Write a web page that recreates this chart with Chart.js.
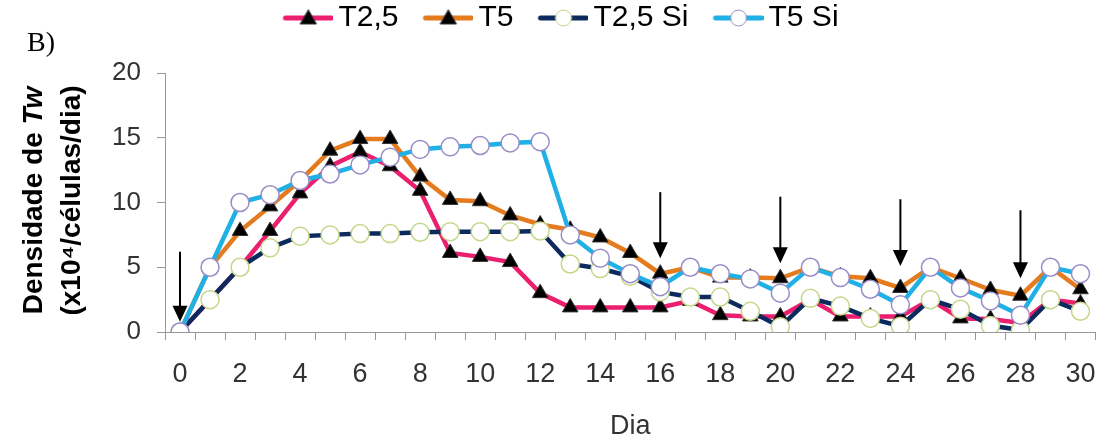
<!DOCTYPE html>
<html>
<head>
<meta charset="utf-8">
<script src="https://cdn.jsdelivr.net/npm/chart.js@4/dist/chart.umd.min.js"></script>
<style>
  html, body { margin: 0; padding: 0; background: #fff; }
  #wrap { width: 1106px; height: 440px; }
</style>
</head>
<body>
<div id="wrap"><canvas id="chart"></canvas></div>
<script>
'use strict';

// Days 0..30 (x axis categories)
const days = ['0', '1', '2', '3', '4', '5', '6', '7', '8', '9', '10',
    '11', '12', '13', '14', '15', '16', '17', '18', '19', '20',
    '21', '22', '23', '24', '25', '26', '27', '28', '29', '30'];

// Values (x10^4 cells)
const t25 = [0, 2.5, 5, 7.8, 10.7, 12.8, 13.9, 12.8, 10.9, 6.1, 5.8, 5.4, 3.0, 1.9, 1.9, 1.9,
    1.9, 2.4, 1.3, 1.2, 1.2, 2.5, 1.2, 1.2, 1.2, 2.5, 1.05, 1.0, 0.7, 2.5, 2.2];
const t5 = [0, 5, 7.8, 9.7, 11.7, 14.0, 14.9, 14.9, 12.0, 10.2, 10.1, 9.0, 8.3, 7.9, 7.3, 6.1,
    4.5, 5.0, 4.2, 4.2, 4.15, 5.0, 4.3, 4.15, 3.4, 5.0, 4.15, 3.25, 2.8, 5.0, 3.3];
const t25Si = [0, 2.5, 5.0, 6.5, 7.4, 7.5, 7.6, 7.6, 7.7, 7.75, 7.75, 7.75, 7.8, 5.25, 4.9, 4.3,
    3.1, 2.7, 2.7, 1.6, 0.4, 2.6, 2.0, 1.05, 0.45, 2.5, 1.75, 0.5, 0.15, 2.5, 1.6];
const t5Si = [0, 5.0, 10.0, 10.6, 11.7, 12.2, 12.9, 13.5, 14.1, 14.3, 14.4, 14.6, 14.7, 7.5, 5.7, 4.5,
    3.5, 5.0, 4.5, 4.1, 3.0, 5.0, 4.2, 3.3, 2.1, 5.0, 3.4, 2.4, 1.3, 5.0, 4.5];

// Arrows: day, top value, tip value
const arrowDays = [0, 16, 20, 24, 28];
const arrowTop = [6.2, 10.8, 10.45, 10.25, 9.4];
const arrowTip = [0.8, 5.7, 5.3, 5.1, 4.15];

const yTicks = [0, 5, 10, 15, 20];

const FONT = "'Liberation Sans', Arial, sans-serif";

// little canvas used as legend symbol: line with marker in the middle
function legendIcon(lineColor, marker, fill, stroke) {
    const c = document.createElement('canvas');
    c.width = 82;
    c.height = 22;
    const g = c.getContext('2d');
    g.strokeStyle = lineColor;
    g.lineWidth = 5;
    g.lineCap = 'round';
    g.beginPath();
    g.moveTo(34, 11);
    g.lineTo(80, 11);
    g.stroke();
    const cx = 57, cy = 11;
    g.fillStyle = fill;
    g.strokeStyle = stroke;
    g.lineWidth = 1;
    g.beginPath();
    if (marker === 'triangle') {
        g.moveTo(cx, cy - 8);
        g.lineTo(cx + 8, cy + 6);
        g.lineTo(cx - 8, cy + 6);
        g.closePath();
    } else {
        g.arc(cx, cy, 8, 0, Math.PI * 2);
    }
    g.fill();
    g.stroke();
    return c;
}

const icons = [
    legendIcon('#ec1e6e', 'triangle', '#000', '#333'),
    legendIcon('#e47b1e', 'triangle', '#000', '#333'),
    legendIcon('#0d2a5e', 'circle', '#fff', '#c6d68a'),
    legendIcon('#1fb0e6', 'circle', '#fff', '#9a8cc6')
];

// push the plot area down below the legend
const legendGap = {
    id: 'legendGap',
    beforeInit(chart) {
        const fit = chart.legend.fit;
        chart.legend.fit = function () {
            fit.call(chart.legend);
            this.height += 30;
        };
    }
};

// panel letter, y axis title (with italic Tw) and the arrows
const extras = {
    id: 'extras',
    afterDatasetsDraw(chart) {
        const ctx = chart.ctx;
        const x = chart.scales.x, y = chart.scales.y;
        ctx.save();
        ctx.strokeStyle = '#000';
        ctx.fillStyle = '#000';
        ctx.lineWidth = 2;
        arrowDays.forEach((d, i) => {
            const px = x.getPixelForValue(d);
            const top = y.getPixelForValue(arrowTop[i]);
            const tip = y.getPixelForValue(arrowTip[i]);
            ctx.beginPath();
            ctx.moveTo(px, top);
            ctx.lineTo(px, tip - 14);
            ctx.stroke();
            ctx.beginPath();
            ctx.moveTo(px - 7.5, tip - 16);
            ctx.lineTo(px + 7.5, tip - 16);
            ctx.lineTo(px, tip);
            ctx.closePath();
            ctx.fill();
        });
        ctx.restore();
    },
    afterDraw(chart) {
        const ctx = chart.ctx;
        ctx.save();
        ctx.fillStyle = '#000';
        ctx.font = "28px 'Liberation Serif', 'Times New Roman', serif";
        ctx.textBaseline = 'alphabetic';
        ctx.fillText('B)', 27, 51);

        // y title, rotated
        const cy = (chart.chartArea.top + chart.chartArea.bottom) / 2 - 2;
        ctx.translate(0, cy);
        ctx.rotate(-Math.PI / 2);
        ctx.textBaseline = 'middle';
        const bold = 'bold 28px ' + FONT;
        const boldIt = 'italic bold 28px ' + FONT;
        ctx.font = bold;
        const w1 = ctx.measureText('Densidade de ').width;
        ctx.font = boldIt;
        const w2 = ctx.measureText('Tw').width;
        let sx = -(w1 + w2) / 2;
        ctx.font = bold;
        ctx.fillText('Densidade de ', sx, 34);
        ctx.font = boldIt;
        ctx.fillText('Tw', sx + w1, 34);
        ctx.font = bold;
        ctx.textAlign = 'center';
        ctx.fillText('(x10\u2074/c\u00e9lulas/dia)', 0, 72);
        ctx.restore();
    }
};

const chart = new Chart(document.getElementById('chart'), {
    type: 'line',
    data: {
        labels: days,
        datasets: [
            {
                label: 'T2,5',
                data: t25,
                borderColor: '#ec1e6e',
                borderWidth: 4.5,
                pointStyle: 'triangle',
                pointRadius: 9,
                pointBackgroundColor: '#000',
                pointBorderColor: '#333',
                pointBorderWidth: 1,
                order: 3
            },
            {
                label: 'T5',
                data: t5,
                borderColor: '#e47b1e',
                borderWidth: 4.5,
                pointStyle: 'triangle',
                pointRadius: 9,
                pointBackgroundColor: '#000',
                pointBorderColor: '#333',
                pointBorderWidth: 1,
                order: 2
            },
            {
                label: 'T2,5 Si',
                data: t25Si,
                borderColor: '#0d2a5e',
                borderWidth: 4.5,
                pointStyle: 'circle',
                pointRadius: 9,
                pointBackgroundColor: '#fff',
                pointBorderColor: '#c6d68a',
                pointBorderWidth: 1.5,
                order: 1
            },
            {
                label: 'T5 Si',
                data: t5Si,
                borderColor: '#1fb0e6',
                borderWidth: 4.5,
                pointStyle: 'circle',
                pointRadius: 9,
                pointBackgroundColor: '#fff',
                pointBorderColor: '#9a8cc6',
                pointBorderWidth: 1.5,
                order: 0
            }
        ]
    },
    options: {
        responsive: true,
        maintainAspectRatio: false,
        animation: false,
        layout: { padding: { left: 0, right: 6, top: 0, bottom: 0 } },
        plugins: {
            tooltip: { enabled: false },
            legend: {
                position: 'top',
                labels: {
                    usePointStyle: true,
                    pointStyleWidth: 62,
                    padding: 3,
                    color: '#000',
                    font: { family: FONT, size: 30 },
                    generateLabels: (c) => c.data.datasets.map((ds, i) => ({
                        text: ds.label,
                        pointStyle: icons[i],
                        datasetIndex: i,
                        hidden: !c.isDatasetVisible(i),
                        fontColor: '#000',
                        lineWidth: 0
                    }))
                }
            }
        },
        scales: {
            x: {
                offset: true,
                grid: { offset: true, drawOnChartArea: false, tickLength: 8, color: '#999' },
                border: { color: '#999' },
                ticks: {
                    autoSkip: false,
                    maxRotation: 0,
                    padding: 18,
                    color: '#333',
                    font: { family: FONT, size: 27 },
                    callback: function (v, i) {
                        return i % 2 === 0 ? this.getLabelForValue(v) : '';
                    }
                },
                title: {
                    display: true,
                    text: 'Dia',
                    color: '#333',
                    padding: 0,
                    font: { family: FONT, size: 27, lineHeight: 1 }
                },
                afterFit: (s) => {
                    s.height = 108;
                    s.paddingLeft = 0;
                    s.paddingRight = 0;
                }
            },
            y: {
                min: 0,
                max: 20,
                afterBuildTicks: (s) => { s.ticks = yTicks.map(v => ({ value: v })); },
                ticks: {
                    padding: 16,
                    color: '#333',
                    font: { family: FONT, size: 26 }
                },
                grid: { drawOnChartArea: false, tickLength: 8, color: '#999' },
                border: { color: '#999' },
                afterFit: (s) => { s.width = 165; }
            }
        }
    },
    plugins: [legendGap, extras]
});
</script>
</body>
</html>
